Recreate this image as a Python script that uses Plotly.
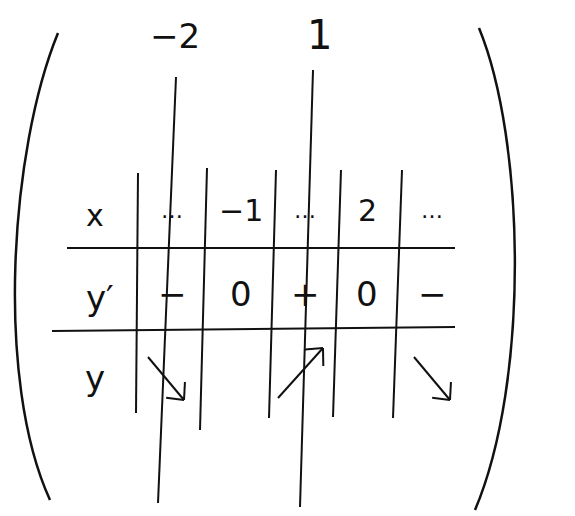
import math
import plotly.graph_objects as go

# critical points written above the table
critical_labels = ["−2", "1"]
# table rows
row_labels = ["x", "y′", "y"]
x_cells = ["…", "−1", "…", "2", "…"]
dy_cells = ["−", "0", "+", "0", "−"]
y_trend = ["down", "", "up", "", "down"]

W, H = 575, 516
OFF = 8  # page body margin, so the page pixel == data unit
INK = "#111111"

fig = go.Figure()

# invisible trace so the axes exist
fig.add_trace(go.Scatter(x=[0, W], y=[0, H], mode="markers",
                         marker=dict(opacity=0), hoverinfo="skip", showlegend=False))

shapes = []


def stroke(x0, y0, x1, y1, w=2):
    shapes.append(dict(type="line", x0=x0, y0=y0, x1=x1, y1=y1,
                       line=dict(color=INK, width=w)))


# big parentheses
shapes.append(dict(type="path", path="M 58,33 C 10,150 -5,380 50,500",
                   line=dict(color=INK, width=2.5)))
shapes.append(dict(type="path", path="M 479,28 C 525,140 530,380 475,510",
                   line=dict(color=INK, width=2.5)))

# long guide lines through the critical points
stroke(176, 77, 158, 503)
stroke(313, 70, 300, 507)

# table column separators
col_lines = [(138, 173, 136, 413), (207, 168, 200, 430), (276, 170, 269, 418),
             (341, 170, 333, 417), (402, 170, 393, 418)]
for c in col_lines:
    stroke(*c)

# row separators
stroke(67, 248, 455, 248)
stroke(52, 331, 455, 327)

annotations = []


def txt(x, y, s, size, yanchor="middle"):
    annotations.append(dict(x=x, y=y, text=s, showarrow=False, yanchor=yanchor,
                            font=dict(size=size, color=INK, family="DejaVu Sans")))


txt(175, 36, critical_labels[0], 34)
txt(319, 10, critical_labels[1], 40, yanchor="top")

txt(95, 215, row_labels[0], 30)
txt(100, 298, row_labels[1], 34)
txt(95, 378, row_labels[2], 34)

cell_x = [172, 241, 305, 367, 432]
for cx, s in zip(cell_x, x_cells):
    txt(cx, 210, s, 30 if s != "…" else 22)
for cx, s in zip(cell_x, dy_cells):
    txt(cx, 294, s, 34)

# trend arrows with open V heads
arrow_geom = {"down": (0, 357, 36, 400), "up": (0, 398, 45, 348)}
trend_x = [148, None, 278, None, 414]
for tx, t in zip(trend_x, y_trend):
    if not t:
        continue
    x0, y0, x1, y1 = arrow_geom[t]
    x0, x1 = x0 + tx, x1 + tx
    stroke(x0, y0, x1, y1)
    ang = math.atan2(y0 - y1, x0 - x1)
    for da in (-0.75, 0.75):
        stroke(x1, y1, x1 + 18 * math.cos(ang + da), y1 + 18 * math.sin(ang + da))

fig.update_layout(
    width=W, height=H,
    margin=dict(l=0, r=0, t=0, b=0),
    paper_bgcolor="white", plot_bgcolor="white",
    xaxis=dict(range=[OFF, W + OFF], visible=False, fixedrange=True),
    yaxis=dict(range=[H + OFF, OFF], visible=False, fixedrange=True),
    shapes=shapes, annotations=annotations,
    showlegend=False,
)

fig.write_html("out.html")
